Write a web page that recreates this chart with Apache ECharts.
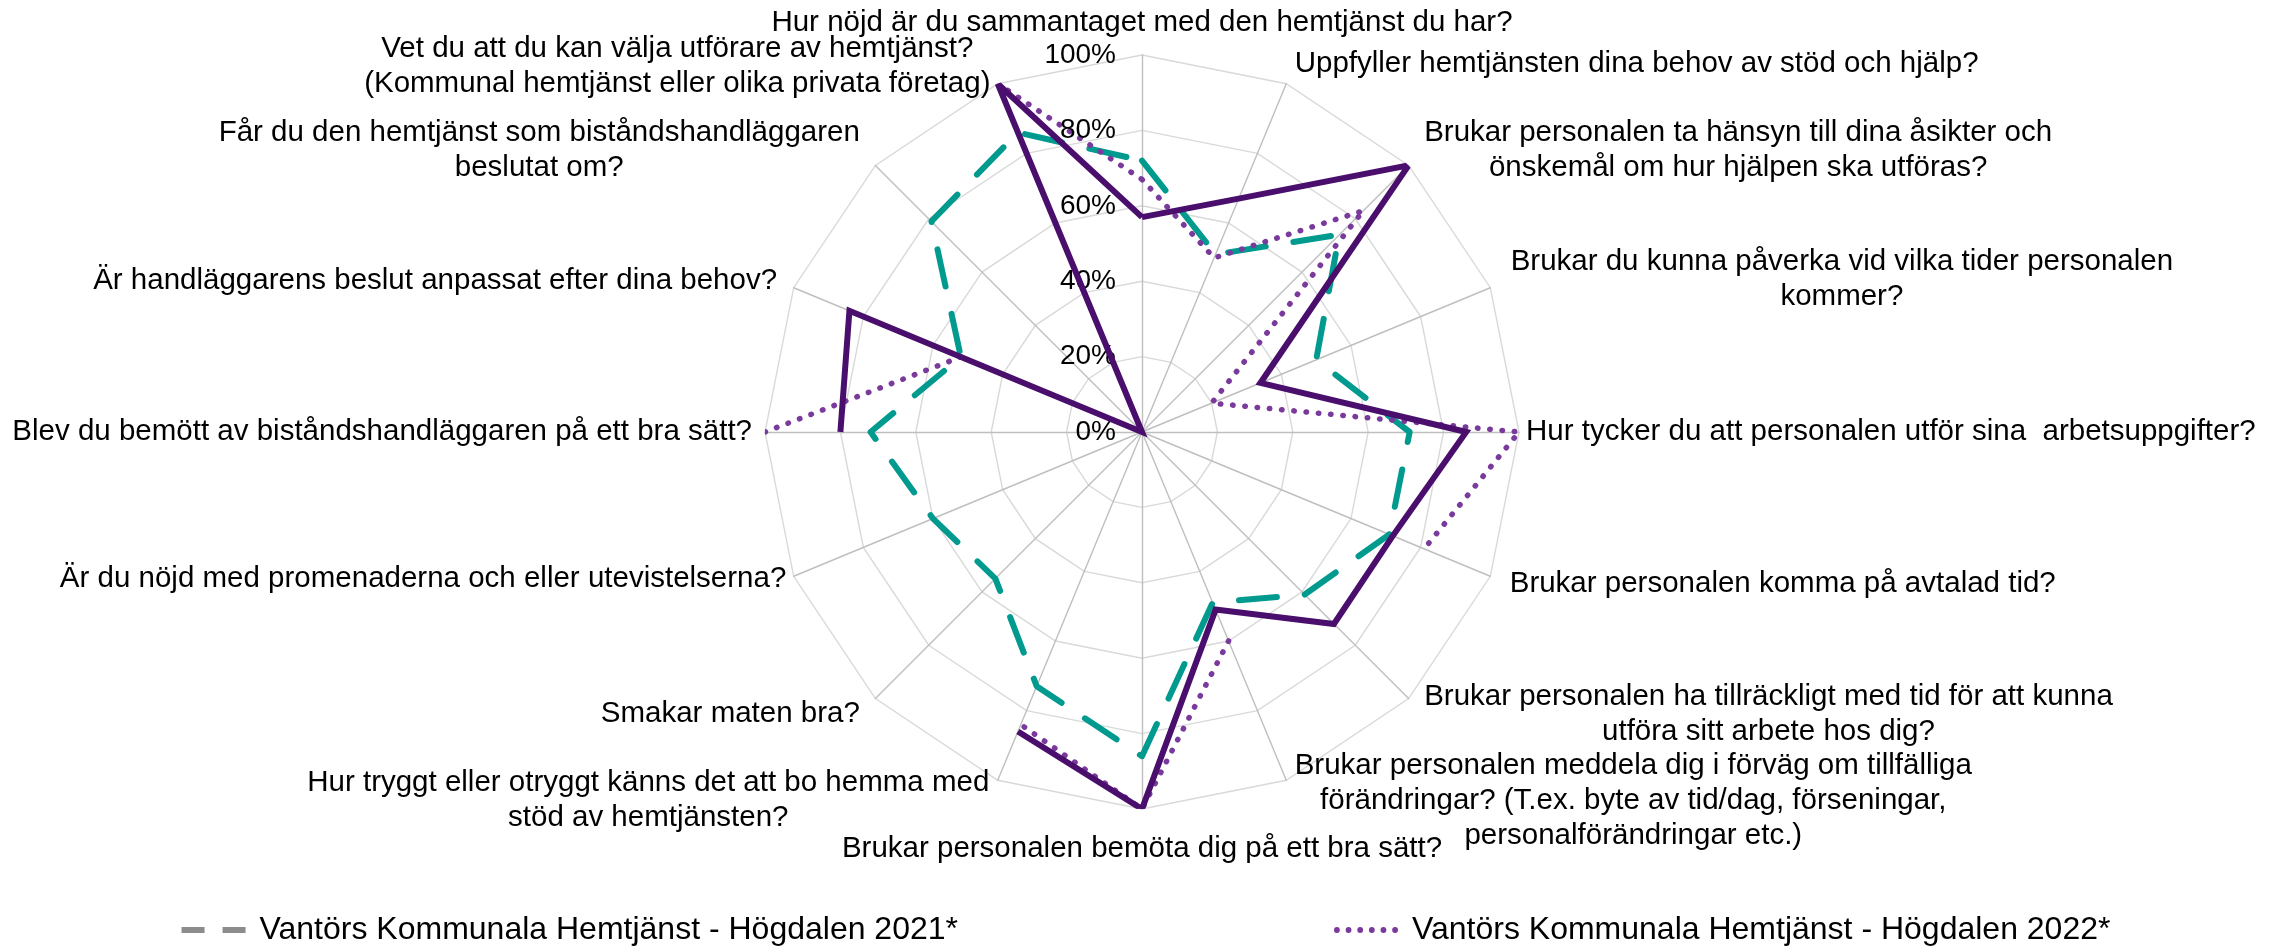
<!DOCTYPE html>
<html>
<head>
<meta charset="utf-8">
<script src="https://cdn.jsdelivr.net/npm/echarts@6/dist/echarts.min.js"></script>
<style>
  html, body { margin: 0; padding: 0; background: #fff; }
  #chart { width: 2292px; height: 950px; }
</style>
</head>
<body>
<div id="chart"></div>
<script>
// questions, clockwise from the top
const categories = [
  "Hur nöjd är du sammantaget med den hemtjänst du har?",
  "Uppfyller hemtjänsten dina behov av stöd och hjälp?",
  "Brukar personalen ta hänsyn till dina åsikter och\nönskemål om hur hjälpen ska utföras?",
  "Brukar du kunna påverka vid vilka tider personalen\nkommer?",
  "Hur tycker du att personalen utför sina  arbetsuppgifter?",
  "Brukar personalen komma på avtalad tid?",
  "Brukar personalen ha tillräckligt med tid för att kunna\nutföra sitt arbete hos dig?",
  "Brukar personalen meddela dig i förväg om tillfälliga\nförändringar? (T.ex. byte av tid/dag, förseningar,\npersonalförändringar etc.)",
  "Brukar personalen bemöta dig på ett bra sätt?",
  "Hur tryggt eller otryggt känns det att bo hemma med\nstöd av hemtjänsten?",
  "Smakar maten bra?",
  "Är du nöjd med promenaderna och eller utevistelserna?",
  "Blev du bemött av biståndshandläggaren på ett bra sätt?",
  "Är handläggarens beslut anpassat efter dina behov?",
  "Får du den hemtjänst som biståndshandläggaren\nbeslutat om?",
  "Vet du att du kan välja utförare av hemtjänst?\n(Kommunal hemtjänst eller olika privata företag)"
]

const names = [
  "Vantörs Kommunala Hemtjänst - Högdalen 2021*",
  "Vantörs Kommunala Hemtjänst - Högdalen 2022*",
  "Vantörs Kommunala Hemtjänst - Högdalen 2023*"
]

// percent, null = no answer (gap in the line)
const values2021 = [72, 51, 74, 50, 71, 71, 61, 49, 86, 73, 55, 60, 72, 52, 79, 86]
const values2022 = [67, 50, 83, 20, 100, 81, null, 60, 100, 84, null, null, 100, 52, null, 100]
const values2023 = [57, 67, 100, 34, 86, 72, 72, 51, 100, 86, null, null, 80, 84, 0, 100]

const radiusTicks = [0, 20, 40, 60, 80, 100]

const FONT = "Liberation Sans"
const CENTER = [1142, 432]
const RADIUS = 377

// label distance from the outer ring, per question (excel puts some closer)
const nameGaps = [15, 22, 22, 22, 7, 21, 22, 22, 22, 22, 22, 8, 13, 18, 22, 19]

const step = 360 / categories.length

// polar points [r, angle]; first point repeated at 360 to close the loop
const toPolar = (vals) => {
  const pts = vals.map((v, i) => [v == null ? null : v, i * step])
  pts.push([vals[0] == null ? null : vals[0], 360])
  return pts
}

// radar lays indicators out counter-clockwise, so reverse everything after the first
const indicatorOrder = [0].concat(categories.map((c, i) => i).slice(1).reverse())

const chart = echarts.init(document.getElementById("chart"))

const option = {
  animation: false,
  backgroundColor: "#fff",
  radar: {
    center: CENTER,
    radius: RADIUS,
    startAngle: 90,
    shape: "polygon",
    splitNumber: 5,
    nameGap: 22,
    indicator: indicatorOrder.map((i) => ({
      name: categories[i],
      min: 0,
      max: 100,
      nameGap: nameGaps[i],
    })),
    axisName: {
      color: "#000",
      fontFamily: FONT,
      fontSize: 29.5,
      lineHeight: 35,
      formatter: (name) =>
        name
          .split("\n")
          .map((l) => "{c|" + l + "}")
          .join("\n"),
      rich: {
        c: {
          align: "center",
          color: "#000",
          fontFamily: FONT,
          fontSize: 29.5,
          lineHeight: 35,
        },
      },
    },
    axisLine: { lineStyle: { color: "#bfbfbf", width: 1.4 } },
    splitLine: { lineStyle: { color: "#d9d9d9", width: 1.4 } },
    splitArea: { show: false },
    axisTick: { show: false },
    axisLabel: { show: false },
  },
  polar: {
    center: CENTER,
    radius: RADIUS,
  },
  angleAxis: {
    type: "value",
    min: 0,
    max: 360,
    startAngle: 90,
    clockwise: true,
    show: false,
  },
  radiusAxis: {
    type: "value",
    min: radiusTicks[0],
    max: radiusTicks[radiusTicks.length - 1],
    interval: radiusTicks[1] - radiusTicks[0],
    axisLine: { show: false },
    axisTick: { show: false },
    splitLine: { show: false },
    axisLabel: {
      margin: 26,
      color: "#000",
      fontFamily: FONT,
      fontSize: 28,
      formatter: "{value}%",
    },
    z: 5,
  },
  legend: {
    left: "center",
    top: 909,
    itemGap: 376,
    itemWidth: 64,
    itemHeight: 32,
    textStyle: {
      color: "#000",
      fontFamily: FONT,
      fontSize: 32,
      padding: [0, 0, 0, 9],
    },
    data: [
      {
        name: names[0],
        icon: "path://M0,13h23v6h-23z M41,13h23v6h-23z M0,0h0.01v0.01h-0.01z M0,31.99h0.01v0.01h-0.01z",
        itemStyle: { color: "#8c8c8c" },
      },
      {
        name: names[1],
        icon:
          "path://M0,16a3,3 0 1,0 6,0a3,3 0 1,0 -6,0z M12,16a3,3 0 1,0 6,0a3,3 0 1,0 -6,0z M24,16a3,3 0 1,0 6,0a3,3 0 1,0 -6,0z M36,16a3,3 0 1,0 6,0a3,3 0 1,0 -6,0z M48,16a3,3 0 1,0 6,0a3,3 0 1,0 -6,0z M60,16a3,3 0 1,0 6,0a3,3 0 1,0 -6,0z M0,0h0.01v0.01h-0.01z M0,31.99h0.01v0.01h-0.01z",
        itemStyle: { color: "#7a3a9c" },
      },
    ],
  },
  series: [
    {
      name: names[0],
      type: "line",
      coordinateSystem: "polar",
      data: toPolar(values2021),
      symbol: "none",
      connectNulls: false,
      color: "#009a8e",
      lineStyle: { color: "#009a8e", width: 6, type: [38, 28], cap: "round", join: "round" },
      z: 3,
    },
    {
      name: names[1],
      type: "line",
      coordinateSystem: "polar",
      data: toPolar(values2022),
      symbol: "none",
      connectNulls: false,
      color: "#7a3a9c",
      lineStyle: { color: "#7a3a9c", width: 5.5, type: [0.5, 11.8], cap: "round" },
      z: 4,
    },
    {
      name: names[2],
      type: "line",
      coordinateSystem: "polar",
      data: toPolar(values2023),
      symbol: "none",
      connectNulls: false,
      color: "#4a0f6c",
      lineStyle: { color: "#4a0f6c", width: 6, join: "miter" },
      z: 5,
    },
  ],
}

chart.setOption(option)
</script>
</body>
</html>
